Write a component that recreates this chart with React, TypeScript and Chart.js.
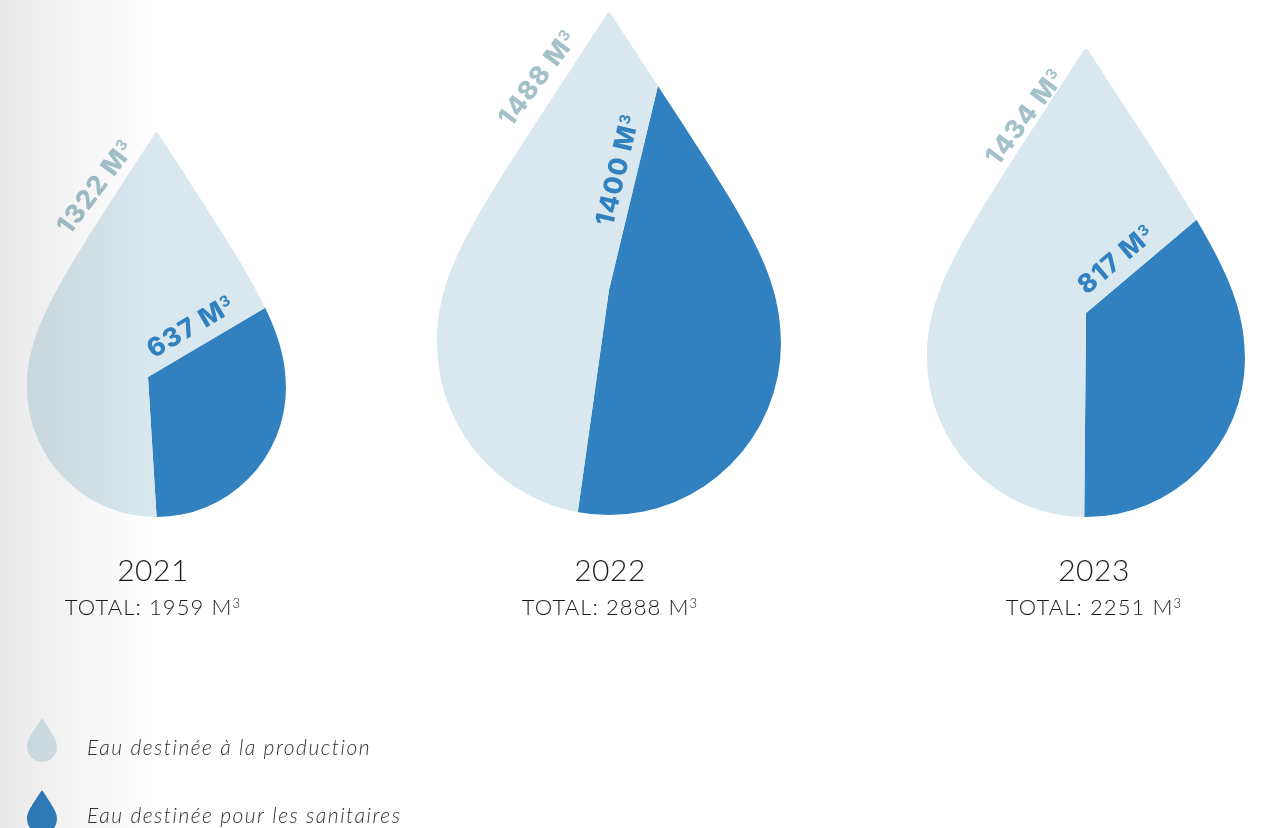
import { useEffect, useRef } from "react";
import { Chart, registerables } from "chart.js";

Chart.register(...registerables);

// ---------------- data ----------------
const years = ["2021", "2022", "2023"];
const productionM3 = [1322, 1488, 1434];
const sanitaryM3 = [637, 1400, 817];
const totalM3 = [1959, 2888, 2251];
const seriesNames = ["Eau destinée à la production", "Eau destinée pour les sanitaires"];
const unitBase = "M";
const unitPower = "3";
const totalLabel = "TOTAL:";

// ---------------- style ----------------
const LIGHT = "#d9e8ee";
const DARK = "#3180bf";
const LIGHT_TEXT = "#a3c1c9";
const TEXT = "#1a1a1a";
const LABEL_FONT = "800 26px Inter, Lato, 'DejaVu Sans', sans-serif";
const LABEL_SUP_FONT = "700 15px Inter, Lato, 'DejaVu Sans', sans-serif";
const YEAR_FONT = "300 30px Lato, 'DejaVu Sans', sans-serif";
const TOTAL_FONT = "300 22px Lato, 'DejaVu Sans', sans-serif";
const TOTAL_SUP_FONT = "300 13px Lato, 'DejaVu Sans', sans-serif";
const LEGEND_FONT = "italic 300 21px Lato, 'DejaVu Sans', sans-serif";
const LIGHT_LABEL_ANGLE = -53;

// page-pixel layout of each drop (style, not data)
const dropLayouts = [
  { pieX: 148, pieY: 377, halfW: 150, halfH: 250, cx: 156.5, cy: 387.5, r: 129.5, tipY: 131, darkEnd: 176.5, darkAlong: 14, darkOff: 13, lightDx: -87, lightDy: 105, textX: 153, yearY: 581, totalY: 615 },
  { pieX: 609, pieY: 290, halfW: 180, halfH: 340, cx: 609, cy: 343, r: 172, tipY: 11, darkEnd: 188, darkAlong: 62, darkOff: 11, lightDx: -98, lightDy: 117, textX: 610, yearY: 581, totalY: 615 },
  { pieX: 1086, pieY: 313, halfW: 172, halfH: 315, cx: 1086, cy: 358, r: 159, tipY: 47, darkEnd: 180.5, darkAlong: 12, darkOff: 13, lightDx: -88, lightDy: 120, textX: 1094, yearY: 581, totalY: 615 },
];

function dropPath(ctx: CanvasRenderingContext2D, cx: number, cy: number, r: number, tipY: number) {
  const c1x = 0.754 * r;
  const c1y = 1.16 * r;
  const c2 = 0.46 * r;
  const rr = Math.max(1.2, r * 0.02);
  ctx.beginPath();
  ctx.moveTo(cx - rr, tipY + rr * 1.5);
  ctx.bezierCurveTo(cx - c1x, tipY + c1y, cx - r, cy - c2, cx - r, cy);
  ctx.arc(cx, cy, r, Math.PI, 0, true);
  ctx.bezierCurveTo(cx + r, cy - c2, cx + c1x, tipY + c1y, cx + rr, tipY + rr * 1.5);
  ctx.quadraticCurveTo(cx, tipY - rr * 0.5, cx - rr, tipY + rr * 1.5);
  ctx.closePath();
}

// draws "main" + raised small "sup"; align: left or center at x
function drawSup(
  ctx: CanvasRenderingContext2D,
  main: string,
  sup: string,
  x: number,
  y: number,
  align: "left" | "center",
  font: string,
  supFont: string,
  raise: number,
  spacing: string,
) {
  ctx.textAlign = "left";
  ctx.textBaseline = "alphabetic";
  ctx.font = font;
  (ctx as any).letterSpacing = spacing;
  const w1 = ctx.measureText(main).width;
  ctx.font = supFont;
  const w2 = ctx.measureText(sup).width;
  const start = align === "center" ? x - (w1 + w2) / 2 : x;
  ctx.font = font;
  ctx.fillText(main, start, y);
  ctx.font = supFont;
  ctx.fillText(sup, start + w1, y - raise);
}

function DropChart({ index }: { index: number }) {
  const ref = useRef<HTMLCanvasElement | null>(null);
  const L = dropLayouts[index];
  useEffect(() => {
    const canvas = ref.current;
    if (!canvas) return;
    const ox = L.pieX - L.halfW;
    const oy = L.pieY - L.halfH;
    const darkDeg = (360 * sanitaryM3[index]) / (sanitaryM3[index] + productionM3[index]);

    const dropPlugin = {
      id: "dropClip",
      beforeDatasetsDraw(chart: any) {
        const ctx = chart.ctx as CanvasRenderingContext2D;
        ctx.save();
        dropPath(ctx, L.cx - ox, L.cy - oy, L.r, L.tipY - oy);
        ctx.clip();
      },
      afterDatasetsDraw(chart: any) {
        const ctx = chart.ctx as CanvasRenderingContext2D;
        ctx.restore();
        const arc = chart.getDatasetMeta(0).data[0] as any;
        // dark (sanitaires) label along the split line
        ctx.save();
        ctx.translate(arc.x, arc.y);
        ctx.rotate(arc.startAngle);
        ctx.fillStyle = DARK;
        drawSup(ctx, `${sanitaryM3[index]} ${unitBase}`, unitPower, L.darkAlong, -L.darkOff, "left", LABEL_FONT, LABEL_SUP_FONT, 8, "1.2px");
        ctx.restore();
        // light (production) label along the drop edge
        ctx.save();
        ctx.translate(L.cx - ox + L.lightDx, L.tipY - oy + L.lightDy);
        ctx.rotate((LIGHT_LABEL_ANGLE * Math.PI) / 180);
        ctx.fillStyle = LIGHT_TEXT;
        drawSup(ctx, `${productionM3[index]} ${unitBase}`, unitPower, 0, 0, "left", LABEL_FONT, LABEL_SUP_FONT, 8, "1.2px");
        ctx.restore();
        // year + total
        ctx.save();
        ctx.fillStyle = TEXT;
        ctx.textAlign = "center";
        ctx.textBaseline = "alphabetic";
        ctx.font = YEAR_FONT;
        (ctx as any).letterSpacing = "0.5px";
        ctx.fillText(years[index], L.textX - ox, L.yearY - oy);
        drawSup(ctx, `${totalLabel} ${totalM3[index]} ${unitBase}`, unitPower, L.textX - ox, L.totalY - oy, "center", TOTAL_FONT, TOTAL_SUP_FONT, 7, "1.1px");
        ctx.restore();
      },
    };

    const chart = new Chart(canvas, {
      type: "pie",
      data: {
        labels: [seriesNames[1], seriesNames[0]],
        datasets: [
          {
            data: [sanitaryM3[index], productionM3[index]],
            backgroundColor: [DARK, LIGHT],
            borderWidth: 0,
            hoverOffset: 0,
            radius: L.halfH * 2,
          } as any,
        ],
      },
      options: {
        responsive: false,
        animation: false,
        events: [],
        rotation: L.darkEnd - darkDeg,
        layout: { padding: 0 },
        plugins: { legend: { display: false }, tooltip: { enabled: false } },
      } as any,
      plugins: [dropPlugin],
    });
    return () => chart.destroy();
  }, [index]);

  return (
    <canvas
      ref={ref}
      width={L.halfW * 2}
      height={L.halfH * 2}
      style={{ position: "absolute", left: L.pieX - L.halfW, top: L.pieY - L.halfH, width: L.halfW * 2, height: L.halfH * 2 }}
    />
  );
}

function Legend() {
  const ref = useRef<HTMLCanvasElement | null>(null);
  useEffect(() => {
    const canvas = ref.current;
    if (!canvas) return;
    const ctx = canvas.getContext("2d");
    if (!ctx) return;
    ctx.clearRect(0, 0, canvas.width, canvas.height);
    const items = [
      { color: LIGHT, tipY: 18, cy: 47, text: seriesNames[0], baseline: 55 },
      { color: DARK, tipY: 90, cy: 119, text: seriesNames[1], baseline: 123 },
    ];
    items.forEach((it) => {
      ctx.fillStyle = it.color;
      dropPath(ctx, 42, it.cy, 15, it.tipY);
      ctx.fill();
      ctx.fillStyle = "#333333";
      ctx.font = LEGEND_FONT;
      (ctx as any).letterSpacing = "1.5px";
      ctx.textAlign = "left";
      ctx.textBaseline = "alphabetic";
      ctx.fillText(it.text, 87, it.baseline);
    });
  }, []);
  return <canvas ref={ref} width={460} height={128} style={{ position: "absolute", left: 0, top: 700, width: 460, height: 128 }} />;
}

export default function App() {
  return (
    <div style={{ position: "fixed", left: 0, top: 0, width: 1265, height: 828, overflow: "hidden", background: "#ffffff" }}>
      {dropLayouts.map((_, i) => (
        <DropChart key={i} index={i} />
      ))}
      <Legend />
      <div
        style={{
          position: "absolute",
          left: 0,
          top: 0,
          width: 1265,
          height: 828,
          background: "linear-gradient(to right, #e9e9e9 0px, #f5f5f5 80px, #ffffff 155px)",
          mixBlendMode: "multiply",
          pointerEvents: "none",
        }}
      />
    </div>
  );
}
